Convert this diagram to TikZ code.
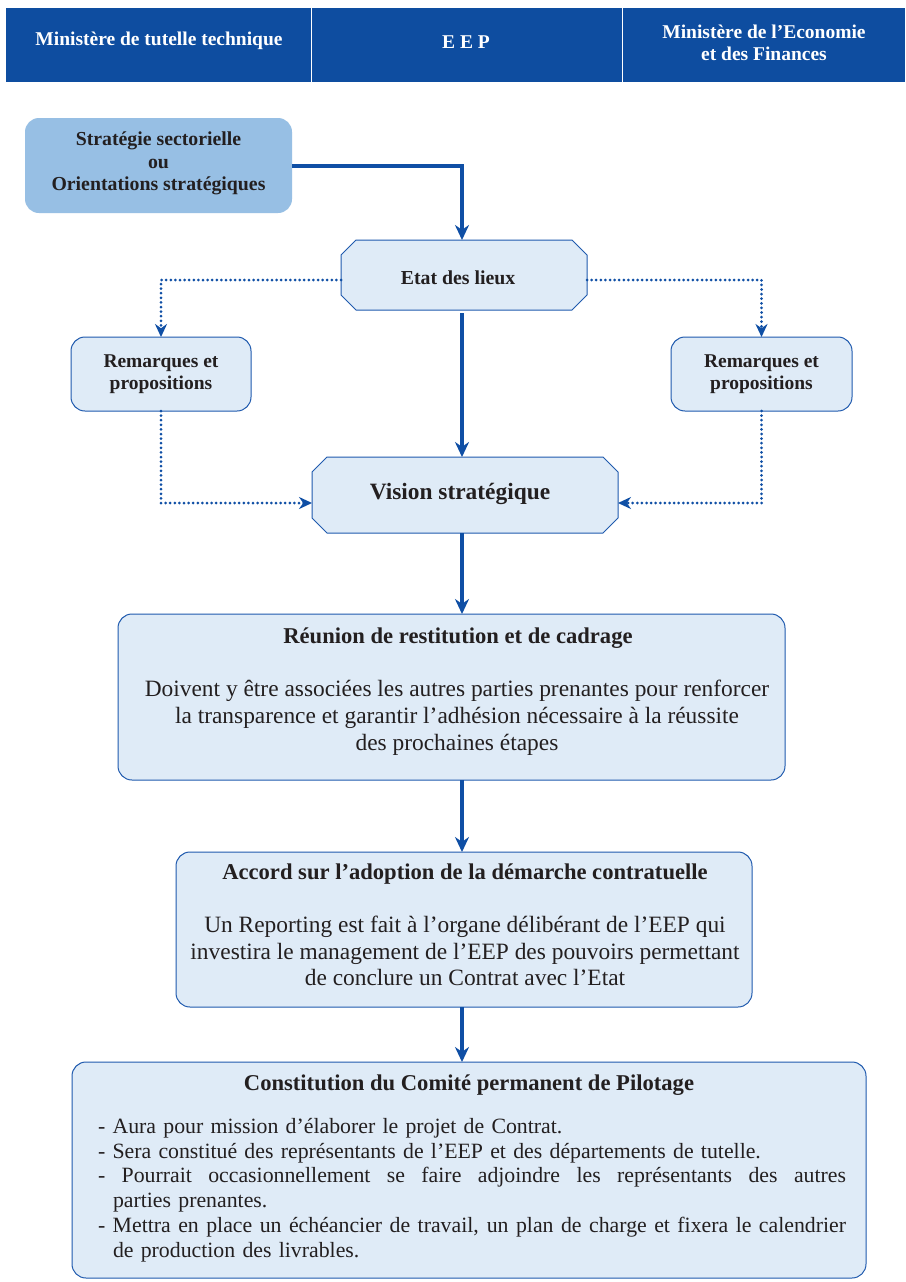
\documentclass[tikz,border=0pt]{standalone}
\usepackage{fontspec}
\setmainfont{Liberation Serif}
\usetikzlibrary{arrows.meta,calc}
\definecolor{hdr}{HTML}{0E4DA0}
\definecolor{boxfill}{HTML}{DFEBF7}
\definecolor{boxline}{HTML}{1F5AAE}
\definecolor{topfill}{HTML}{97BFE4}
\definecolor{arr}{HTML}{0F4FA5}
\definecolor{txt}{HTML}{231F20}
\newcommand{\fullline}[1]{\leavevmode\hbox to 748pt{\spaceskip=0.25em plus 2em\relax #1}}
\begin{document}
\begin{tikzpicture}[x=1pt,y=-1pt,
  every node/.style={text=txt, inner sep=0pt, outer sep=0pt},
  rbox/.style={draw=boxline, fill=boxfill, line width=1pt, rounded corners=14pt},
  octbox/.style={draw=none, fill=none},
  octline/.style={draw=boxline, fill=boxfill, line width=1pt},
  bigarrow/.style={draw=arr, line width=4.5pt, -{Stealth[length=15pt,width=14pt]}},
  dotarrow/.style={draw=arr, line width=3pt, line cap=round, dash pattern=on 0pt off 4.6pt, -{Stealth[length=13pt,width=12pt]}},
  hdrtext/.style={text=white, font=\fontsize{19.5}{22}\selectfont\bfseries, align=center},
  smallbold/.style={font=\fontsize{19.8}{22.5}\selectfont\bfseries, align=center},
  titlebold/.style={font=\fontsize{22.6}{24}\selectfont\bfseries, align=center},
  body/.style={font=\fontsize{23.4}{26.8}\selectfont, align=center}]
\useasboundingbox (0,0) rectangle (905,1282);
\fill[white] (0,0) rectangle (905,1282);
% header
\fill[hdr] (6,8) rectangle (905,82);
\draw[white, line width=1pt] (311,8) -- (311,82);
\draw[white, line width=1pt] (622,8) -- (622,82);
\node[hdrtext] (h1) at (159,41) {Ministère de tutelle technique};
\node[hdrtext] (h2) at (466,42) {E E P};
\node[hdrtext] (h3) at (764,43) {Ministère de l’Economie\\et des Finances};
% top box
\node[fill=topfill, rounded corners=14pt, minimum width=267pt, minimum height=95pt] (top) at (158.5,165.5) {};
\node[smallbold] (topt) at (158.5,163.5) {Stratégie sectorielle\\ou\\Orientations stratégiques};
% Etat des lieux
\node[octbox, minimum width=246pt, minimum height=70pt] (etat) at (464,275) {};
\draw[octline] ($(etat.north west)+(15,0)$) -- ($(etat.north east)+(-15,0)$) -- ($(etat.north east)+(0,15)$) -- ($(etat.south east)+(0,-15)$) -- ($(etat.south east)+(-15,0)$) -- ($(etat.south west)+(15,0)$) -- ($(etat.south west)+(0,-15)$) -- ($(etat.north west)+(0,15)$) -- cycle;
\node[smallbold] (etatt) at (458,278) {Etat des lieux};
% Remarques
\node[rbox, minimum width=180pt, minimum height=74pt] (remL) at (161,374) {};
\node[smallbold, font=\fontsize{19.5}{22}\selectfont\bfseries] (remLt) at (161,374) {Remarques et\\propositions};
\node[rbox, minimum width=181pt, minimum height=74pt] (remR) at (761.5,374) {};
\node[smallbold, font=\fontsize{19.5}{22}\selectfont\bfseries] (remRt) at (761.5,374) {Remarques et\\propositions};
% Vision
\node[octbox, minimum width=306pt, minimum height=76pt] (vis) at (465,495) {};
\draw[octline] ($(vis.north west)+(15,0)$) -- ($(vis.north east)+(-15,0)$) -- ($(vis.north east)+(0,15)$) -- ($(vis.south east)+(0,-15)$) -- ($(vis.south east)+(-15,0)$) -- ($(vis.south west)+(15,0)$) -- ($(vis.south west)+(0,-15)$) -- ($(vis.north west)+(0,15)$) -- cycle;
\node[font=\fontsize{23.4}{24}\selectfont\bfseries] (vist) at (460,494) {Vision stratégique};
% Reunion
\node[rbox, minimum width=667pt, minimum height=166pt] (reu) at (451.5,697) {};
\node[titlebold] (reut) at (458,638) {Réunion de restitution et de cadrage};
\node[body] (reub) at (457,718) {Doivent y être associées les autres parties prenantes pour renforcer\\la transparence et garantir l’adhésion nécessaire à la réussite\\des prochaines étapes};
% Accord
\node[rbox, minimum width=576pt, minimum height=155pt] (acc) at (464,929.5) {};
\node[titlebold] (acct) at (465,874) {Accord sur l’adoption de la démarche contratuelle};
\node[body] (accb) at (465,951) {Un Reporting est fait à l’organe délibérant de l’EEP qui\\investira le management de l’EEP des pouvoirs permettant\\de conclure un Contrat avec l’Etat};
% Constitution
\node[rbox, minimum width=794pt, minimum height=216pt] (con) at (469,1170) {};
\node[titlebold] (cont) at (469,1085) {Constitution du Comité permanent de Pilotage};
\node[font=\fontsize{21.8}{24.8}\selectfont, text width=748pt, align=left] (conb) at (472,1190) {%
- Aura pour mission d’élaborer le projet de Contrat.\\
- Sera constitué des représentants de l’EEP et des départements de tutelle.\\
\fullline{- Pourrait occasionnellement se faire adjoindre les représentants des autres}\\
\hspace*{15pt}parties prenantes.\\
\fullline{- Mettra en place un échéancier de travail, un plan de charge et fixera le calendrier}\\
\hspace*{15pt}de production des livrables.};
% connectors
\draw[bigarrow] (top.east |- 0,166) -| (etat.north -| 462,0);
\draw[bigarrow] ($(etat.south)+(-2,3)$) -- ($(vis.north)+(-3,0)$);
\draw[bigarrow] ($(vis.south)+(-3,0)$) -- ($(reu.north)+(10.5,0)$);
\draw[bigarrow] ($(reu.south)+(10.5,0)$) -- ($(acc.north)+(-2,0)$);
\draw[bigarrow] ($(acc.south)+(-2,0)$) -- ($(con.north)+(-7,0)$);
\draw[dotarrow] (etat.west |- 0,280) -| (remL.north);
\draw[dotarrow] (etat.east |- 0,280) -| (remR.north);
\draw[dotarrow] (remL.south) |- (vis.west |- 0,503);
\draw[dotarrow] (remR.south) |- (vis.east |- 0,503);
\end{tikzpicture}
\end{document}
